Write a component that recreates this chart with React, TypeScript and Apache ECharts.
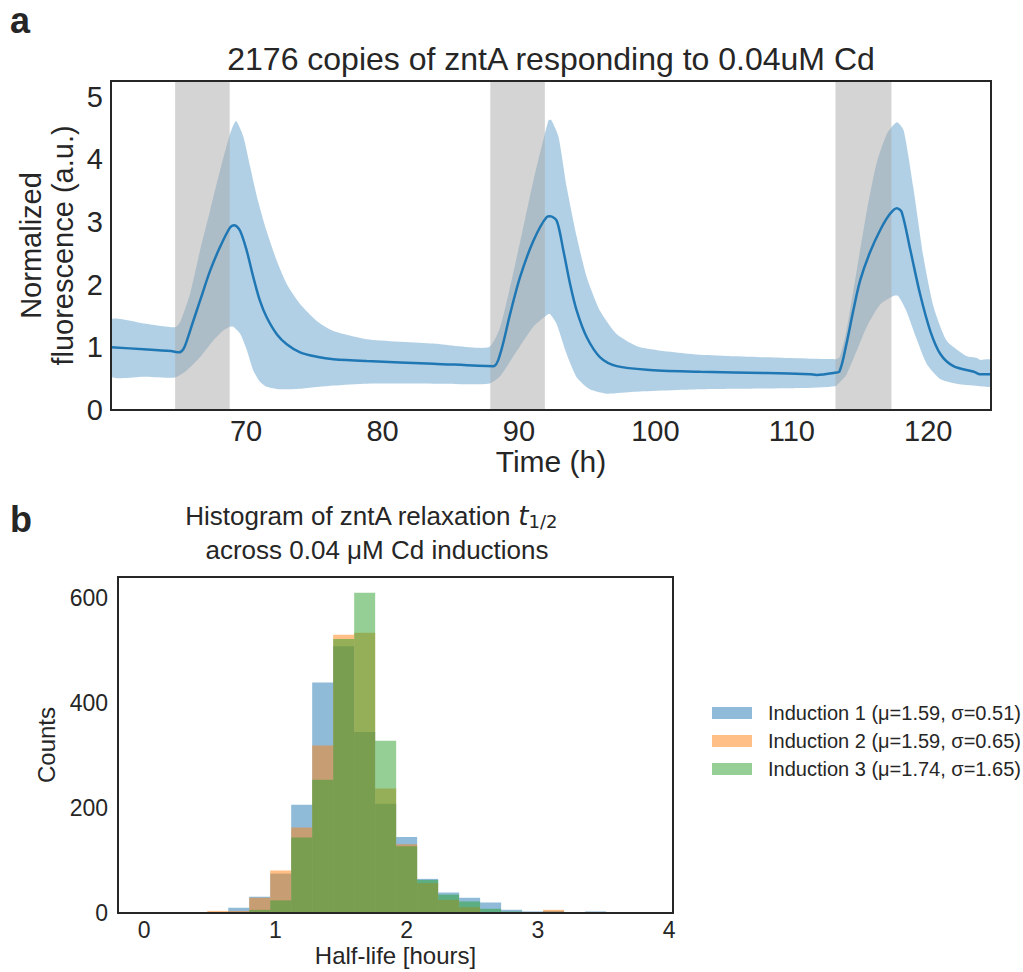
import React, { useEffect, useRef } from "react";
import * as echarts from "echarts";

const FONT = '"Liberation Sans", Arial, Helvetica, sans-serif';
const INK = "#262626";

// ---------- Panel a: mean response and spread over time ----------
const meanCurve: [number, number][] = [
  [60.1, 1.0], [62.5, 0.97], [64.5, 0.94], [65.08, 0.92], [65.4, 0.97], [65.65, 1.1],
  [66.13, 1.42], [66.62, 1.74], [67.36, 2.22], [68.09, 2.6], [68.82, 2.91], [69.14, 2.95],
  [69.56, 2.86], [70.05, 2.54], [70.53, 2.12], [71.02, 1.74], [71.51, 1.48], [72.25, 1.21],
  [72.98, 1.05], [73.96, 0.92], [75.18, 0.85], [76.4, 0.81], [78.85, 0.78], [83.73, 0.74],
  [88.13, 0.7], [88.62, 0.89], [89.35, 1.53], [90.08, 2.12], [91.06, 2.7], [92.04, 3.08],
  [92.28, 3.09], [92.77, 3.02], [93.26, 2.54], [93.75, 2.01], [94.24, 1.58], [94.97, 1.16],
  [95.95, 0.84], [97.17, 0.7], [99.6, 0.64], [103.3, 0.61], [108.2, 0.59], [111.35, 0.57],
  [111.8, 0.56], [113.05, 0.59], [113.5, 0.62], [114.0, 1.05], [114.5, 1.58], [115.0, 2.06],
  [115.7, 2.5], [116.5, 2.88], [117.2, 3.13], [117.7, 3.22], [118.05, 3.16], [118.7, 2.54],
  [119.4, 1.85], [120.15, 1.26], [120.9, 0.89], [121.85, 0.7], [123.35, 0.61], [123.8, 0.57],
  [124.6, 0.57],
];

const upperCurve: [number, number][] = [
  [60.1, 1.44], [62.5, 1.38], [64.79, 1.32], [65.16, 1.4], [65.89, 1.85], [66.62, 2.54],
  [67.36, 3.18], [68.09, 3.82], [68.82, 4.4], [69.26, 4.61], [69.8, 4.36], [70.3, 3.88],
  [70.8, 3.4], [71.5, 2.86], [72.25, 2.38], [72.98, 2.01], [73.96, 1.69], [75.18, 1.42],
  [76.4, 1.26], [78.85, 1.13], [83.73, 1.06], [87.77, 1.0], [88.62, 1.32], [89.84, 2.44],
  [91.06, 3.66], [92.16, 4.62], [92.36, 4.63], [92.9, 4.36], [93.5, 3.56], [94.24, 2.76],
  [94.97, 2.12], [95.95, 1.58], [97.17, 1.21], [98.88, 1.0], [102.8, 0.89], [108.2, 0.84],
  [113.2, 0.81], [113.5, 0.84], [114.0, 1.26], [114.75, 2.22], [115.5, 3.18], [116.2, 3.93],
  [116.97, 4.41], [117.7, 4.59], [118.2, 4.46], [118.9, 3.56], [119.65, 2.44], [120.4, 1.64],
  [121.37, 1.1], [122.8, 0.86], [123.57, 0.83], [123.8, 0.8], [124.6, 0.8],
];

const lowerCurve: [number, number][] = [
  [60.1, 0.54], [62.5, 0.53], [64.79, 0.52], [65.65, 0.63], [66.62, 0.84], [67.6, 1.11],
  [68.33, 1.27], [68.82, 1.33], [69.07, 1.33], [69.56, 1.22], [70.05, 0.96], [70.53, 0.63],
  [71.02, 0.45], [71.51, 0.37], [72.49, 0.33], [73.96, 0.34], [76.4, 0.39], [78.85, 0.42],
  [83.73, 0.42], [87.77, 0.42], [88.62, 0.54], [89.84, 0.94], [91.06, 1.33], [92.16, 1.53],
  [92.28, 1.53], [92.77, 1.37], [93.5, 0.89], [94.24, 0.52], [95.2, 0.33], [96.43, 0.26],
  [98.4, 0.29], [103.3, 0.33], [110.6, 0.35], [113.2, 0.38], [113.5, 0.44], [114.0, 0.56],
  [114.75, 0.94], [115.5, 1.33], [116.5, 1.69], [117.45, 1.82], [117.8, 1.82], [118.4, 1.58],
  [119.1, 1.16], [119.9, 0.73], [120.9, 0.49], [122.3, 0.41], [123.8, 0.38], [124.6, 0.38],
];

const inductionWindows: [number, number][] = [
  [64.8, 68.8],
  [87.9, 91.9],
  [113.2, 117.3],
];

const timeTicks = [70, 80, 90, 100, 110, 120];
const fluorTicks = [0, 1, 2, 3, 4, 5];

// ---------- Panel b: histogram of relaxation half-lives ----------
const binLeftEdges = [
  0, 0.16, 0.32, 0.48, 0.64, 0.8, 0.96, 1.12, 1.28, 1.44, 1.6, 1.76, 1.92,
  2.08, 2.24, 2.4, 2.56, 2.72, 2.88, 3.04, 3.2, 3.36, 3.52, 3.68, 3.84,
];
const binWidth = 0.16;
const induction1Counts = [0, 1, 0, 1, 10, 31, 75, 206, 439, 508, 345, 208, 145, 65, 39, 29, 20, 6, 3, 4, 1, 3, 1, 0, 0];
const induction2Counts = [0, 1, 0, 4, 4, 29, 81, 163, 319, 530, 534, 237, 131, 57, 25, 11, 0, 0, 1, 6, 0, 0, 1, 0, 0];
const induction3Counts = [0, 1, 0, 0, 0, 6, 24, 144, 254, 522, 610, 328, 127, 63, 35, 22, 8, 3, 1, 1, 0, 0, 1, 0, 0];
const inductionNames = [
  "Induction 1 (μ=1.59, σ=0.51)",
  "Induction 2 (μ=1.59, σ=0.65)",
  "Induction 3 (μ=1.74, σ=1.65)",
];
const histColors = ["rgba(31,119,180,0.5)", "rgba(255,127,14,0.5)", "rgba(44,160,44,0.5)"];
const halfLifeTicks = [0, 1, 2, 3, 4];
const countTicks = [0, 200, 400, 600];

const GRID_A = { left: 111, top: 81, width: 880, height: 329 };
const GRID_B = { left: 118, top: 577, width: 555, height: 336 };

function histSeries(name: string, counts: number[], color: string, z: number) {
  return {
    type: "custom",
    name,
    xAxisIndex: 1,
    yAxisIndex: 1,
    z,
    silent: true,
    itemStyle: { color },
    encode: { x: [0, 1], y: 2 },
    data: binLeftEdges.map((x0, i) => [x0, x0 + binWidth, counts[i]]),
    renderItem: (_params: any, api: any) => {
      const c = api.value(2);
      if (!c) return null;
      const tl = api.coord([api.value(0), c]);
      const br = api.coord([api.value(1), 0]);
      return {
        type: "rect",
        shape: { x: tl[0], y: tl[1], width: br[0] - tl[0], height: br[1] - tl[1] },
        style: { fill: color },
      };
    },
  };
}

export default function App() {
  const ref = useRef<HTMLDivElement>(null);

  useEffect(() => {
    if (!ref.current) return;
    const chart = echarts.init(ref.current, undefined, { renderer: "svg" });

    const option: any = {
      animation: false,
      backgroundColor: "#ffffff",
      textStyle: { fontFamily: FONT, color: INK },
      grid: [
        { ...GRID_A, show: false },
        { ...GRID_B, show: false },
      ],
      xAxis: [
        {
          type: "value",
          gridIndex: 0,
          min: 60.1,
          max: 124.6,
          splitLine: { show: false },
          axisLine: { show: false },
          axisTick: { show: false },
          axisLabel: {
            fontSize: 29,
            color: INK,
            fontFamily: FONT,
            margin: 6,
            formatter: (v: number) => (timeTicks.includes(v) ? String(v) : ""),
          },
          name: "Time (h)",
          nameLocation: "middle",
          nameGap: 36,
          nameTextStyle: { fontSize: 30, color: INK, fontFamily: FONT },
        },
        {
          type: "value",
          gridIndex: 1,
          min: -0.2,
          max: 4.03,
          splitLine: { show: false },
          axisLine: { show: false },
          axisTick: { show: false },
          axisLabel: {
            fontSize: 23,
            color: INK,
            fontFamily: FONT,
            margin: 5,
            formatter: (v: number) => (halfLifeTicks.includes(v) ? String(v) : ""),
          },
          name: "Half-life [hours]",
          nameLocation: "middle",
          nameGap: 30,
          nameTextStyle: { fontSize: 24, color: INK, fontFamily: FONT },
        },
      ],
      yAxis: [
        {
          type: "value",
          gridIndex: 0,
          min: 0,
          max: 5.25,
          interval: 1,
          splitLine: { show: false },
          axisLine: { show: false },
          axisTick: { show: false },
          axisLabel: {
            fontSize: 29,
            color: INK,
            fontFamily: FONT,
            margin: 8,
            formatter: (v: number) => (fluorTicks.includes(v) ? String(v) : ""),
          },
        },
        {
          type: "value",
          gridIndex: 1,
          min: 0,
          max: 640,
          interval: 200,
          splitLine: { show: false },
          axisLine: { show: false },
          axisTick: { show: false },
          axisLabel: {
            fontSize: 23,
            color: INK,
            fontFamily: FONT,
            margin: 10,
            formatter: (v: number) => (countTicks.includes(v) ? String(v) : ""),
          },
          name: "Counts",
          nameLocation: "middle",
          nameRotate: 90,
          nameGap: 52,
          nameTextStyle: { fontSize: 24, color: INK, fontFamily: FONT },
        },
      ],
      legend: {
        data: inductionNames,
        orient: "vertical",
        left: 712,
        top: 703,
        padding: 0,
        itemWidth: 40,
        itemHeight: 12,
        itemGap: 8,
        icon: "rect",
        selectedMode: false,
        textStyle: { fontSize: 20, color: INK, fontFamily: FONT, padding: [0, 0, 0, 11] },
      },
      graphic: [
        {
          type: "text",
          x: 10,
          y: 20,
          style: { text: "a", fontSize: 36, fontWeight: "bold", fontFamily: FONT, fill: INK, align: "left", verticalAlign: "middle" },
        },
        {
          type: "text",
          x: 10,
          y: 519,
          style: { text: "b", fontSize: 36, fontWeight: "bold", fontFamily: FONT, fill: INK, align: "left", verticalAlign: "middle" },
        },
        {
          type: "text",
          x: GRID_A.left + GRID_A.width / 2,
          y: 59,
          style: {
            text: "2176 copies of zntA responding to 0.04uM Cd",
            fontSize: 32,
            fontFamily: FONT,
            fill: INK,
            align: "center",
            verticalAlign: "middle",
          },
        },
        {
          type: "text",
          x: 47,
          y: GRID_A.top + GRID_A.height / 2,
          rotation: Math.PI / 2,
          style: {
            text: "Normalized\nfluorescence (a.u.)",
            fontSize: 29,
            lineHeight: 32,
            fontFamily: FONT,
            fill: INK,
            align: "center",
            verticalAlign: "middle",
          },
        },
        {
          type: "text",
          x: 371,
          y: 516,
          style: {
            text: "Histogram of zntA relaxation {t|t}{s|1/2}",
            fontSize: 26,
            lineHeight: 30,
            fontFamily: FONT,
            fill: INK,
            align: "center",
            verticalAlign: "middle",
            rich: {
              t: { fontSize: 26, lineHeight: 30, fontStyle: "italic", fontFamily: '"DejaVu Sans", sans-serif', fill: INK },
              s: { fontSize: 18, lineHeight: 17, fontFamily: '"DejaVu Sans", sans-serif', fill: INK, verticalAlign: "top", padding: [11, 0, 0, 0] },
            },
          },
        },
        {
          type: "text",
          x: 377,
          y: 550,
          style: {
            text: "across 0.04 μM Cd inductions",
            fontSize: 26,
            fontFamily: FONT,
            fill: INK,
            align: "center",
            verticalAlign: "middle",
          },
        },
        {
          type: "rect",
          z: 100,
          shape: { x: GRID_A.left, y: GRID_A.top, width: GRID_A.width, height: GRID_A.height },
          style: { fill: "none", stroke: INK, lineWidth: 2 },
          silent: true,
        },
        {
          type: "rect",
          z: 100,
          shape: { x: GRID_B.left, y: GRID_B.top, width: GRID_B.width, height: GRID_B.height },
          style: { fill: "none", stroke: INK, lineWidth: 2 },
          silent: true,
        },
      ],
      series: [
        {
          type: "custom",
          name: "spread",
          xAxisIndex: 0,
          yAxisIndex: 0,
          z: 2,
          silent: true,
          clip: true,
          data: [upperCurve[0]],
          encode: { x: 0, y: 1 },
          renderItem: (_params: any, api: any) => {
            const pts = upperCurve
              .map((p) => api.coord(p))
              .concat(lowerCurve.slice().reverse().map((p) => api.coord(p)));
            return {
              type: "polygon",
              shape: { points: pts, smooth: 0.2 },
              style: { fill: "rgba(31,119,180,0.35)" },
            };
          },
        },
        {
          type: "custom",
          name: "Cd exposure",
          xAxisIndex: 0,
          yAxisIndex: 0,
          z: 3,
          silent: true,
          data: inductionWindows.map(([s, e]) => [s, e, 0]),
          encode: { x: [0, 1], y: 2 },
          renderItem: (params: any, api: any) => {
            const a = api.coord([api.value(0), 0]);
            const b = api.coord([api.value(1), 0]);
            const cs = params.coordSys;
            return {
              type: "rect",
              shape: { x: a[0], y: cs.y, width: b[0] - a[0], height: cs.height },
              style: { fill: "rgba(169,169,169,0.5)" },
            };
          },
        },
        {
          type: "line",
          name: "mean",
          xAxisIndex: 0,
          yAxisIndex: 0,
          z: 4,
          data: meanCurve,
          showSymbol: false,
          smooth: 0.3,
          lineStyle: { color: "#1f77b4", width: 2.5 },
          itemStyle: { color: "#1f77b4" },
        },
        histSeries(inductionNames[0], induction1Counts, histColors[0], 2),
        histSeries(inductionNames[1], induction2Counts, histColors[1], 3),
        histSeries(inductionNames[2], induction3Counts, histColors[2], 4),
      ],
    };

    chart.setOption(option);
    return () => chart.dispose();
  }, []);

  return (
    <div
      ref={ref}
      style={{ position: "fixed", left: 0, top: 0, width: 1023, height: 972, background: "#fff" }}
    />
  );
}
